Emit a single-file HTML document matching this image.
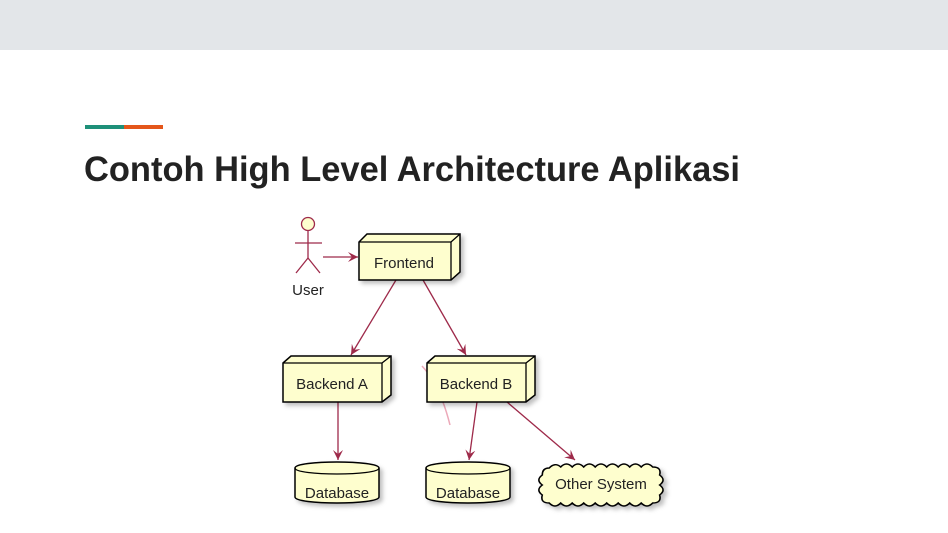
<!DOCTYPE html>
<html><head><meta charset="utf-8"><style>
html,body{margin:0;padding:0;background:#fff;width:948px;height:533px;overflow:hidden}
</style></head><body>
<svg width="948" height="533" viewBox="0 0 948 533" xmlns="http://www.w3.org/2000/svg" font-family="'Liberation Sans', 'DejaVu Sans', sans-serif">
<defs>
<marker id="ar" markerWidth="12" markerHeight="12" refX="10" refY="6" orient="auto" markerUnits="userSpaceOnUse">
<path d="M0,1 L10,6 L0,11 L4,6 Z" fill="#9e2a4a"/>
</marker>
<filter id="sh" x="-10%" y="-10%" width="130%" height="140%"><feDropShadow dx="3" dy="3" stdDeviation="2" flood-color="#000" flood-opacity="0.25"/></filter>
</defs>
<rect x="0" y="0" width="948" height="50" fill="#e3e6e9"/>
<rect x="85" y="125" width="39" height="4" fill="#1e9079"/>
<rect x="124" y="125" width="39" height="4" fill="#e4561a"/>
<text x="84" y="181" font-size="35" font-weight="bold" fill="#222" textLength="656" lengthAdjust="spacingAndGlyphs">Contoh High Level Architecture Aplikasi</text>

<g stroke="#9e2a4a" stroke-width="1.3" fill="none">
<line x1="323" y1="257" x2="358" y2="257" marker-end="url(#ar)"/>
<line x1="396" y1="280" x2="351" y2="355" marker-end="url(#ar)"/>
<line x1="423" y1="280" x2="466" y2="355" marker-end="url(#ar)"/>
<line x1="338" y1="402" x2="338" y2="460" marker-end="url(#ar)"/>
<line x1="477" y1="402" x2="469" y2="460" marker-end="url(#ar)"/>
<line x1="507" y1="402" x2="575" y2="460" marker-end="url(#ar)"/>
</g>
<path d="M422,366 Q440,385 450,425" stroke="#e0708a" stroke-width="1.5" fill="none" opacity="0.6"/>

<!-- actor -->
<g stroke="#9e2a4a" stroke-width="1.3" fill="#fefece">
<circle cx="308" cy="224" r="6.5"/>
<line x1="308" y1="231" x2="308" y2="258"/>
<line x1="295" y1="243" x2="322" y2="243"/>
<polyline points="296,273 308,258 320,273" fill="none"/>
</g>
<text x="308" y="295" font-size="15" text-anchor="middle" fill="#222">User</text>

<!-- nodes -->
<g stroke="#000" stroke-width="1.5" fill="#fefece" filter="url(#sh)">
<path d="M359,242 L367,234 L460,234 L460,272 L451,280 L359,280 Z"/>
<path d="M283,363 L291,356 L391,356 L391,395 L382,402 L283,402 Z"/>
<path d="M427,363 L435,356 L535,356 L535,395 L526,402 L427,402 Z"/>
</g>
<g stroke="#000" stroke-width="1.3" fill="none">
<polyline points="359,242 451,242 460,234"/><line x1="451" y1="242" x2="451" y2="280"/>
<polyline points="283,363 382,363 391,356"/><line x1="382" y1="363" x2="382" y2="402"/>
<polyline points="427,363 526,363 535,356"/><line x1="526" y1="363" x2="526" y2="402"/>
</g>
<g font-size="15" fill="#222" text-anchor="middle">
<text x="404" y="268">Frontend</text>
<text x="332" y="389">Backend A</text>
<text x="476" y="389">Backend B</text>
</g>

<!-- databases -->
<g stroke="#000" stroke-width="1.5" fill="#fefece" filter="url(#sh)">
<path d="M295,468 C295,460 379,460 379,468 L379,497 C379,505 295,505 295,497 Z"/>
<path d="M426,468 C426,460 510,460 510,468 L510,497 C510,505 426,505 426,497 Z"/>
</g>
<g stroke="#000" stroke-width="1.3" fill="none">
<path d="M295,468 C295,476 379,476 379,468"/>
<path d="M426,468 C426,476 510,476 510,468"/>
</g>
<g font-size="15" fill="#222" text-anchor="middle">
<text x="337" y="498">Database</text>
<text x="468" y="498">Database</text>
</g>

<!-- cloud -->
<path filter="url(#sh)" transform="translate(540,0) scale(1.15,1) translate(-540,0)" stroke="#000" stroke-width="1.4" fill="#fefece" d="M548,468 q5,-6 10,-1 q5,-6 10,0 q5,-6 10,0 q5,-6 10,0 q5,-6 10,0 q5,-6 10,0 q5,-6 10,0 q5,-6 10,0 q5,-6 10,0 q8,0 6,8 q6,5 0,10 q6,5 0,10 q2,8 -6,8 q-5,6 -10,0 q-5,6 -10,0 q-5,6 -10,0 q-5,6 -10,0 q-5,6 -10,0 q-5,6 -10,0 q-5,6 -10,0 q-5,6 -10,0 q-5,6 -10,0 q-8,0 -6,-8 q-6,-5 0,-10 q-6,-5 0,-10 q0,-7 6,-7 Z"/>
<text x="601" y="489" font-size="15" fill="#222" text-anchor="middle">Other System</text>
</svg>
</body></html>
